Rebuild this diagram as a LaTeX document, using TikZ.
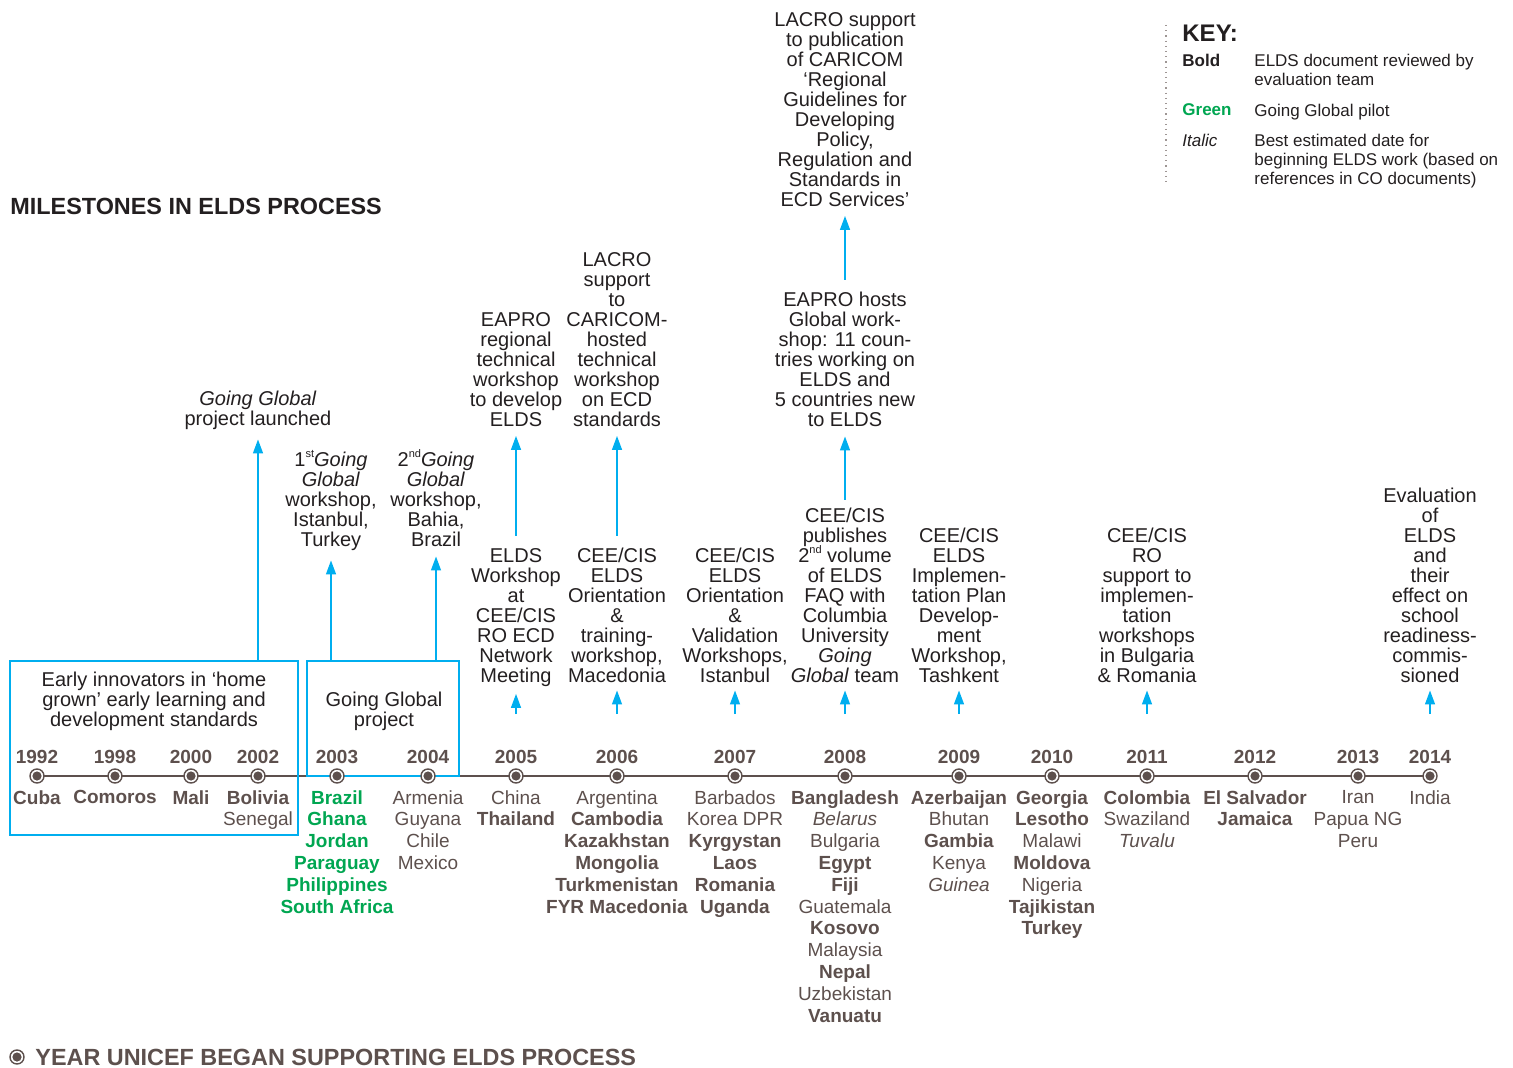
\documentclass[tikz,border=0pt]{standalone}
\usepackage{fontspec}
\setmainfont{Liberation Sans}
\usetikzlibrary{arrows.meta}
\definecolor{brn}{RGB}{93,80,77}
\definecolor{blu}{RGB}{0,174,239}
\definecolor{grn}{RGB}{0,166,81}
\definecolor{ink}{RGB}{35,31,32}
\newcommand{\ordsup}[1]{\smash{\raisebox{0.9ex}{\fontsize{5.5}{5.5}\selectfont #1}}}

\begin{document}
\begin{tikzpicture}[x=0.5pt,y=-0.5pt,
  yr/.style={text=brn,font=\fontsize{9.5}{10}\selectfont\bfseries,inner sep=0pt},
  ctry/.style={text=brn,font=\fontsize{9.5}{10.9}\selectfont,align=center,anchor=north,inner sep=0pt},
  evt/.style={text=ink,font=\fontsize{10}{10}\selectfont,align=center,anchor=north,inner sep=0pt},
  dot/.style={circle,draw=brn,fill=white,line width=0.7pt,minimum size=7pt,inner sep=0pt,
    path picture={\fill[brn] (path picture bounding box.center) circle (2.3pt);}},
  box/.style={draw=blu,line width=0.7pt,inner sep=0pt},
  up/.style={blu,line width=0.7pt,-{Triangle[width=5pt,length=7pt]},shorten >=4.5pt},
  keyt/.style={text=ink,font=\fontsize{8.5}{9.5}\selectfont,align=left,inner sep=0pt}]
  \useasboundingbox (0,0) rectangle (1513,1068);

  \node[anchor=west,inner sep=0pt,text=ink,font=\fontsize{11.7}{12}\selectfont\bfseries] (title) at (10,206) {MILESTONES IN ELDS PROCESS};

  \coordinate (k0) at (1166,25);
  \coordinate (k1) at (1166,186);
  \draw[brn!60,dotted,line width=0.6pt] (k0) -- (k1);
  \node[anchor=west,inner sep=0pt,text=ink,font=\fontsize{12}{12}\selectfont\bfseries] (key) at (1182,33) {KEY:};
  \node[keyt,anchor=west] (kb) at (1182,60) {\bfseries Bold};
  \node[keyt,anchor=north west] (kbd) at (1254,54) {ELDS document reviewed by\\evaluation team};
  \node[keyt,anchor=west,text=grn] (kg) at (1182,110) {\bfseries Green};
  \node[keyt,anchor=north west] (kgd) at (1254,104) {Going Global pilot};
  \node[keyt,anchor=west] (ki) at (1182,140) {\itshape Italic};
  \node[keyt,anchor=north west] (kid) at (1254,134) {Best estimated date for\\beginning ELDS work (based on\\references in CO documents)};

  \coordinate (t0) at (37,776);
  \coordinate (t1) at (1430,776);
  \draw[brn,line width=1pt] (t0) -- (t1);

  \node[box,minimum width=144pt,minimum height=87pt] (b1) at (154,748) {};
  \node[box,minimum width=76pt,minimum height=57.5pt] (b2) at (383,718.5) {};
  \node[evt] (bt1) at (154,672) {Early innovators in ‘home\\grown’ early learning and\\development standards};
  \node[evt] (bt2) at (384,692) {Going Global\\project};

  \node[dot] (d1992) at (37,776) {};
  \node[dot] (d1998) at (115,776) {};
  \node[dot] (d2000) at (191,776) {};
  \node[dot] (d2002) at (258,776) {};
  \node[dot] (d2003) at (337,776) {};
  \node[dot] (d2004) at (428,776) {};
  \node[dot] (d2005) at (516,776) {};
  \node[dot] (d2006) at (617,776) {};
  \node[dot] (d2007) at (735,776) {};
  \node[dot] (d2008) at (845,776) {};
  \node[dot] (d2009) at (959,776) {};
  \node[dot] (d2010) at (1052,776) {};
  \node[dot] (d2011) at (1147,776) {};
  \node[dot] (d2012) at (1255,776) {};
  \node[dot] (d2013) at (1358,776) {};
  \node[dot] (d2014) at (1430,776) {};

  \node[yr] (y1992) at (37,757) {1992};
  \node[yr] (y1998) at (115,757) {1998};
  \node[yr] (y2000) at (191,757) {2000};
  \node[yr] (y2002) at (258,757) {2002};
  \node[yr] (y2003) at (337,757) {2003};
  \node[yr] (y2004) at (428,757) {2004};
  \node[yr] (y2005) at (516,757) {2005};
  \node[yr] (y2006) at (617,757) {2006};
  \node[yr] (y2007) at (735,757) {2007};
  \node[yr] (y2008) at (845,757) {2008};
  \node[yr] (y2009) at (959,757) {2009};
  \node[yr] (y2010) at (1052,757) {2010};
  \node[yr] (y2011) at (1147,757) {2011};
  \node[yr] (y2012) at (1255,757) {2012};
  \node[yr] (y2013) at (1358,757) {2013};
  \node[yr] (y2014) at (1430,757) {2014};

  \node[ctry] (c1992) at (37,790) {\textbf{Cuba}};
  \node[ctry] (c1998) at (115,790) {\textbf{Comoros}};
  \node[ctry] (c2000) at (191,790) {\textbf{Mali}};
  \node[ctry] (c2002) at (258,790) {\textbf{Bolivia}\\Senegal};
  \node[ctry,text=grn] (c2003) at (337,790) {\bfseries Brazil\\\bfseries Ghana\\\bfseries Jordan\\\bfseries Paraguay\\\bfseries Philippines\\\bfseries South Africa};
  \node[ctry] (c2004) at (428,790) {Armenia\\Guyana\\Chile\\Mexico};
  \node[ctry] (c2005) at (516,790) {China\\\textbf{Thailand}};
  \node[ctry] (c2006) at (617,790) {Argentina\\\textbf{Cambodia}\\\textbf{Kazakhstan}\\\textbf{Mongolia}\\\textbf{Turkmenistan}\\\textbf{FYR Macedonia}};
  \node[ctry] (c2007) at (735,790) {Barbados\\Korea DPR\\\textbf{Kyrgystan}\\\textbf{Laos}\\\textbf{Romania}\\\textbf{Uganda}};
  \node[ctry] (c2008) at (845,790) {\textbf{Bangladesh}\\\textit{Belarus}\\Bulgaria\\\textbf{Egypt}\\\textbf{Fiji}\\Guatemala\\\textbf{Kosovo}\\Malaysia\\\textbf{Nepal}\\Uzbekistan\\\textbf{Vanuatu}};
  \node[ctry] (c2009) at (959,790) {\textbf{Azerbaijan}\\Bhutan\\\textbf{Gambia}\\Kenya\\\textit{Guinea}};
  \node[ctry] (c2010) at (1052,790) {\textbf{Georgia}\\\textbf{Lesotho}\\Malawi\\\textbf{Moldova}\\Nigeria\\\textbf{Tajikistan}\\\textbf{Turkey}};
  \node[ctry] (c2011) at (1147,790) {\textbf{Colombia}\\Swaziland\\\textit{Tuvalu}};
  \node[ctry] (c2012) at (1255,790) {\textbf{El Salvador}\\\textbf{Jamaica}};
  \node[ctry] (c2013) at (1358,790) {Iran\\Papua NG\\Peru};
  \node[ctry] (c2014) at (1430,790) {India};

  \node[evt] (gg) at (258,391) {\textit{Going Global}\\project launched};
  \node[evt] (ws1) at (331,452) {1\ordsup{st}\textit{Going}\\\textit{Global}\\workshop,\\Istanbul,\\Turkey};
  \node[evt] (ws2) at (436,452) {2\ordsup{nd}\textit{Going}\\\textit{Global}\\workshop,\\Bahia,\\Brazil};
  \node[evt] (e05a) at (516,548) {ELDS\\Workshop\\at\\CEE/CIS\\RO ECD\\Network\\Meeting};
  \node[evt] (e05b) at (516,312) {EAPRO\\regional\\technical\\workshop\\to develop\\ELDS};
  \node[evt] (e06a) at (617,548) {CEE/CIS\\ELDS\\Orientation\\\&\\training-\\workshop,\\Macedonia};
  \node[evt] (e06b) at (617,252) {LACRO\\support\\to\\CARICOM-\\hosted\\technical\\workshop\\on ECD\\standards};
  \node[evt] (e07) at (735,548) {CEE/CIS\\ELDS\\Orientation\\\&\\Validation\\Workshops,\\Istanbul};
  \node[evt] (e08a) at (845,508) {CEE/CIS\\publishes\\2\ordsup{nd} volume\\of ELDS\\FAQ with\\Columbia\\University\\\textit{Going}\\\textit{Global} team};
  \node[evt] (e08b) at (845,292) {EAPRO hosts\\Global work-\\shop: 11 coun-\\tries working on\\ELDS and\\5 countries new\\to ELDS};
  \node[evt] (e08c) at (845,12) {LACRO support\\to publication\\of CARICOM\\‘Regional\\Guidelines for\\Developing\\Policy,\\Regulation and\\Standards in\\ECD Services’};
  \node[evt] (e09) at (959,528) {CEE/CIS\\ELDS\\Implemen-\\tation Plan\\Develop-\\ment\\Workshop,\\Tashkent};
  \node[evt] (e11) at (1147,528) {CEE/CIS\\RO\\support to\\implemen-\\tation\\workshops\\in Bulgaria\\\& Romania};
  \node[evt] (e14) at (1430,488) {Evaluation\\of\\ELDS\\and\\their\\effect on\\school\\readiness-\\commis-\\sioned};

  \coordinate (s05) at (516,714);
  \coordinate (s06) at (617,714);
  \coordinate (s07) at (735,714);
  \coordinate (s08) at (845,714);
  \coordinate (s09) at (959,714);
  \coordinate (s11) at (1147,714);
  \coordinate (s14) at (1430,714);

  \draw[up] (b1.north -| gg) -- (gg);
  \draw[up] (b2.north -| ws1) -- (ws1);
  \draw[up] (b2.north -| ws2) -- (ws2);
  \draw[up,shorten >=3.5pt] (s05) -- (e05a);
  \draw[up,shorten <=6pt] (e05a) -- (e05b);
  \draw[up,shorten >=3.5pt] (s06) -- (e06a);
  \draw[up,shorten <=6pt] (e06a) -- (e06b);
  \draw[up,shorten >=3.5pt] (s07) -- (e07);
  \draw[up,shorten >=3.5pt] (s08) -- (e08a);
  \draw[up,shorten <=4pt] (e08a) -- (e08b);
  \draw[up,shorten <=6pt] (e08b) -- (e08c);
  \draw[up,shorten >=3.5pt] (s09) -- (e09);
  \draw[up,shorten >=3.5pt] (s11) -- (e11);
  \draw[up,shorten >=3.5pt] (s14) -- (e14);

  \node[dot] (ld) at (17,1057) {};
  \node[anchor=west,inner sep=0pt,text=brn,font=\fontsize{11.7}{12}\selectfont\bfseries] (lt) at (35,1057) {YEAR UNICEF BEGAN SUPPORTING ELDS PROCESS};
\end{tikzpicture}
\end{document}
